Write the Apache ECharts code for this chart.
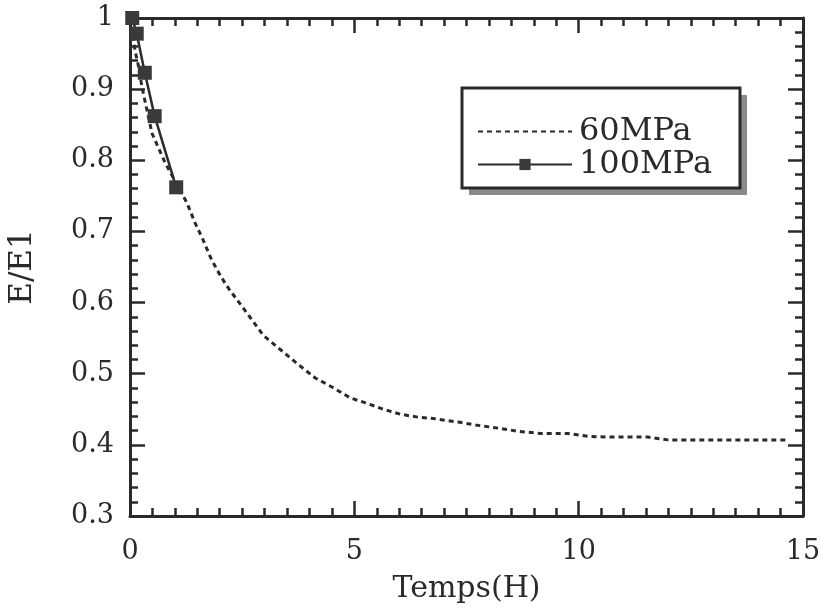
<!DOCTYPE html>
<html>
<head>
<meta charset="utf-8">
<script src="https://cdn.jsdelivr.net/npm/echarts@6/dist/echarts.min.js"></script>
<style>html,body{margin:0;padding:0;background:#fff;}#c{width:820px;height:608px;}</style>
</head>
<body>
<div id="c"></div>
<script>
const seriesNames = ['60MPa', '100MPa'];
const hours60 = [0, 0.11, 0.18, 0.27, 0.38, 0.49, 0.63, 0.78, 0.96, 1.27, 1.45, 1.63, 1.79, 1.94, 2.12, 2.23, 2.68, 2.97, 3.35, 3.75, 4.13, 4.51, 4.91, 5.25, 5.65, 6.03, 6.41, 6.76, 7.32, 7.70, 8.26, 8.66, 9.15, 9.75, 10.2, 10.65, 11.54, 11.99, 13.0, 14.06, 14.67];
const ratio60 = [1.0, 0.955, 0.935, 0.902, 0.870, 0.838, 0.818, 0.797, 0.776, 0.740, 0.712, 0.688, 0.664, 0.646, 0.627, 0.617, 0.579, 0.554, 0.534, 0.513, 0.494, 0.481, 0.466, 0.459, 0.450, 0.443, 0.439, 0.437, 0.432, 0.428, 0.423, 0.419, 0.416, 0.416, 0.412, 0.411, 0.411, 0.407, 0.407, 0.407, 0.407];
const hours100 = [0.05, 0.15, 0.33, 0.55, 1.03];
const ratio100 = [1.0, 0.978, 0.923, 0.862, 0.762];
const xTicks = [0, 15, 5];   // min, max, interval
const yTicks = [0.3, 1, 0.1];

const FONT = 'DejaVu Serif';
const INK = '#2a2a2a';
const chart = echarts.init(document.getElementById('c'), null, {renderer: 'canvas'});

function axisCommon(showLabel) {
  return {
    axisLine: {show: true, onZero: false, lineStyle: {color: INK, width: 3}},
    axisTick: {show: true, inside: true, length: 15, lineStyle: {color: INK, width: 2.5}},
    splitLine: {show: false},
    axisLabel: {show: showLabel, color: INK, fontFamily: FONT, fontSize: 27}
  };
}
const fmt = v => String(+(+v).toFixed(1));

const option = {
  backgroundColor: '#fff',
  animation: false,
  grid: {left: 130, right: 17, top: 18, bottom: 92, containLabel: false, outerBoundsMode: 'none'},
  graphic: [{
    type: 'rect', z: 1,
    shape: {x: 469, y: 95, width: 278, height: 100},
    style: {fill: '#8a8a8a'}
  }, {
    type: 'rect', z: 2,
    shape: {x: 462, y: 88, width: 278, height: 100},
    style: {fill: '#fff', stroke: INK, lineWidth: 3}
  }],
  legend: {
    z: 10, orient: 'vertical', left: 472, top: 110,
    itemWidth: 94, itemHeight: 14, itemGap: 0,
    textStyle: {fontFamily: FONT, fontSize: 32, lineHeight: 33, color: INK, padding: [0, 0, 0, 2]},
    data: [
      {name: seriesNames[0], itemStyle: {opacity: 0}},
      {name: seriesNames[1]}
    ]
  },
  xAxis: [
    Object.assign(axisCommon(true), {
      type: 'value', min: xTicks[0], max: xTicks[1], interval: xTicks[2], position: 'bottom',
      minorTick: {show: true, splitNumber: 10, length: 8, lineStyle: {color: INK, width: 2.5}},
      axisLabel: {show: true, color: INK, fontFamily: FONT, fontSize: 27, margin: 22},
      name: 'Temps(H)', nameLocation: 'middle', nameGap: 58,
      nameTextStyle: {fontFamily: FONT, fontSize: 30, color: INK}
    }),
    Object.assign(axisCommon(false), {
      type: 'value', min: xTicks[0], max: xTicks[1], interval: xTicks[2], position: 'top',
      minorTick: {show: true, splitNumber: 10, length: 8, lineStyle: {color: INK, width: 2.5}}
    })
  ],
  yAxis: [
    Object.assign(axisCommon(true), {
      type: 'value', min: yTicks[0], max: yTicks[1], interval: yTicks[2], position: 'left',
      minorTick: {show: true, splitNumber: 5, length: 8, lineStyle: {color: INK, width: 2.5}},
      axisLabel: {show: true, color: INK, fontFamily: FONT, fontSize: 27, margin: 16, formatter: fmt},
      name: 'E/E1', nameLocation: 'middle', nameGap: 92, nameRotate: 90,
      nameTextStyle: {fontFamily: FONT, fontSize: 31, color: INK}
    }),
    Object.assign(axisCommon(false), {
      type: 'value', min: yTicks[0], max: yTicks[1], interval: yTicks[2], position: 'right',
      minorTick: {show: true, splitNumber: 5, length: 8, lineStyle: {color: INK, width: 2.5}}
    })
  ],
  series: [
    {
      name: seriesNames[0], type: 'line', xAxisIndex: 0, yAxisIndex: 0,
      data: hours60.map((h, i) => [h, ratio60[i]]),
      symbol: 'none', showSymbol: false,
      lineStyle: {color: INK, width: 3, type: [5, 4]},
      itemStyle: {color: INK}, z: 3
    },
    {
      name: seriesNames[1], type: 'line', xAxisIndex: 0, yAxisIndex: 0,
      data: hours100.map((h, i) => [h, ratio100[i]]),
      symbol: 'rect', symbolSize: 14,
      lineStyle: {color: INK, width: 2.5},
      itemStyle: {color: '#3a3a3a'}, z: 4
    }
  ]
};
chart.setOption(option);
</script>
</body>
</html>
